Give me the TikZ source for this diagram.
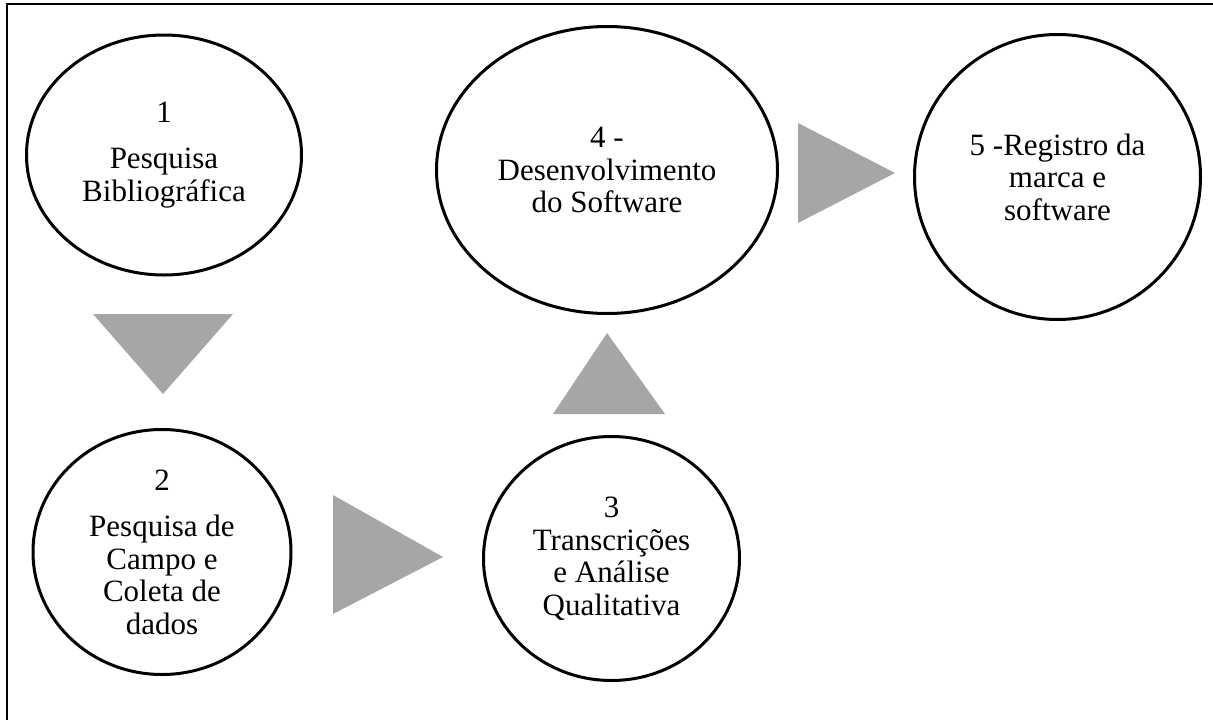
\documentclass[tikz,border=0pt]{standalone}
\usepackage{fontspec}
\setmainfont{Liberation Serif}
\usetikzlibrary{shapes.geometric}
\definecolor{arrowgray}{RGB}{166,166,166}
\tikzset{
  stage/.style={ellipse, draw=black, line width=3pt, fill=white, inner sep=0pt,
    align=center, font=\fontsize{31}{32.5}\selectfont},
  blockarrow/.style={fill=arrowgray, draw=none},
  frameline/.style={draw=black, line width=1.5pt}
}
\begin{document}
\begin{tikzpicture}[x=1pt, y=-1pt]
  \useasboundingbox (0,0) rectangle (1213,720);

  % open frame: top and left edges only
  \coordinate (fl) at (7,720);
  \coordinate (ftl) at (7,4);
  \coordinate (fr) at (1213,4);
  \draw[frameline] (fl) -- (ftl) -- (fr);

  % stages
  \node[stage, minimum width=275pt, minimum height=240pt] (s1) at (164,155)
    {1\\[14pt]Pesquisa\\Bibliográfica};
  \node[stage, minimum width=258pt, minimum height=245pt] (s2) at (162,552)
    {2\\[14pt]Pesquisa de\\Campo e\\Coleta de\\dados};
  \node[stage, minimum width=256pt, minimum height=244pt] (s3) at (611.5,558.5)
    {3\\Transcrições\\e Análise\\Qualitativa};
  \node[stage, minimum width=341pt, minimum height=287pt] (s4) at (607,170)
    {4 -\\Desenvolvimento\\do Software};
  \node[stage, minimum width=286pt, minimum height=285pt] (s5) at (1057.5,177)
    {5 -Registro da\\marca e\\software};

  % block arrows between stages
  \fill[blockarrow] (93,314) -- (233,314) -- (163,394) -- cycle;
  \fill[blockarrow] (333,495) -- (443,557) -- (333,614) -- cycle;
  \fill[blockarrow] (553,414) -- (607,333) -- (665,414) -- cycle;
  \fill[blockarrow] (798,123) -- (895,173) -- (798,223) -- cycle;
\end{tikzpicture}
\end{document}
